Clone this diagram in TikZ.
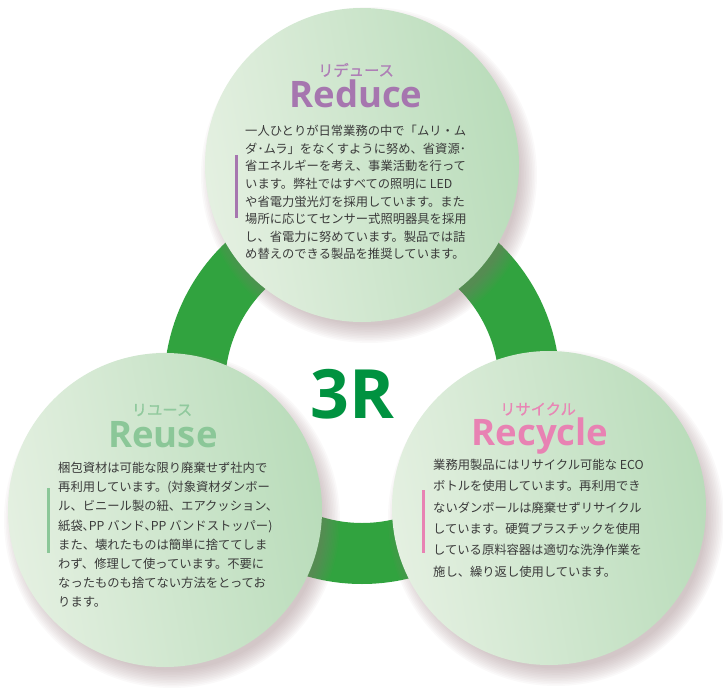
\documentclass[tikz,border=0pt]{standalone}
\usepackage{fontspec}
\newfontfamily\cjk{Noto Sans CJK JP}
\newfontfamily\cjkm{Noto Sans CJK JP}[FakeBold=0.7]
\newfontfamily\titlefont{Open Sans}
\definecolor{ringgreen}{HTML}{31A33F}
\definecolor{threegreen}{HTML}{009240}
\definecolor{bubL}{HTML}{E4F0E1}
\definecolor{bubR}{HTML}{B9DCBA}
\definecolor{shadowcol}{HTML}{94777A}
\definecolor{bodytext}{HTML}{3A3A3A}
\definecolor{redpurple}{HTML}{A676AF}
\definecolor{redpurpleL}{HTML}{AE7EB6}
\definecolor{reugreen}{HTML}{8BC798}
\definecolor{reugreenL}{HTML}{90C99D}
\definecolor{recpink}{HTML}{E882B3}
\definecolor{recpinkL}{HTML}{E886B5}
\tikzset{
  bubble/.style={circle, minimum size=314pt, inner sep=0pt, left color=bubL, right color=bubR, shading angle=100},
  kana/.style={inner sep=0pt, font=\cjkm\fontsize{15.3}{15}\selectfont},
  bigtitle/.style={inner sep=0pt, anchor=base, font=\titlefont\bfseries\fontsize{36.5}{36}\selectfont},
  body/.style={inner sep=0pt, anchor=north west, align=left, text=bodytext},
  sidebar/.style={line width=3pt},
}
\begin{document}
\begin{tikzpicture}[x=1pt,y=-1pt]
\useasboundingbox (0,0) rectangle (723,690);
\coordinate (ctr) at (362,386);
% ring
\fill[ringgreen, even odd rule] (ctr) circle[radius=198pt] (ctr) circle[radius=137pt];
% shadows
\foreach \cx/\cy in {362/165, 165/510, 549/508}{
  \foreach \k in {0,...,11}{
    \fill[shadowcol, opacity=0.045] (\cx+7,\cy+10) circle[radius=157pt+11pt-\k*1.6pt];
  }
}
% bubbles
\node[bubble] (reduce) at (362,165) {};
\node[bubble] (reuse) at (165,510) {};
\node[bubble] (recycle) at (549,508) {};
% centre label
\node[inner sep=0pt, anchor=base, text=threegreen, font=\titlefont\bfseries\fontsize{68}{68}\selectfont] (three) at (352.5,418) {3R};
% Reduce
\node[kana, text=redpurpleL] (reducekana) at (356,70) {リデュース};
\node[bigtitle, text=redpurple] (reducetitle) at (356,108) {Reduce};
\node[body, font=\cjk\fontsize{12.3}{17.6}\selectfont] (reducebody) at (245,125) {一人ひとりが日常業務の中で「ムリ・ム\\ダ･ムラ」をなくすように努め、省資源･\\省エネルギーを考え、事業活動を行って\\います。弊社ではすべての照明に LED\\や省電力蛍光灯を採用しています。また\\場所に応じてセンサー式照明器具を採用\\し、省電力に努めています。製品では詰\\め替えのできる製品を推奨しています。};
\draw[sidebar, redpurple] (236,155) -- (236,218);
% Reuse
\node[kana, text=reugreenL] (reusekana) at (162,410) {リユース};
\node[bigtitle, text=reugreen] (reusetitle) at (163,447) {Reuse};
\node[body, font=\cjk\fontsize{12.3}{19.2}\selectfont] (reusebody) at (58,462) {梱包資材は可能な限り廃棄せず社内で\\再利用しています。(対象資材ダンボー\\ル、ビニール製の紐、エアクッション、\\紙袋､PP バンド､PP バンドストッパー)\\また、壊れたものは簡単に捨ててしま\\わず、修理して使っています。不要に\\なったものも捨てない方法をとってお\\ります。};
\draw[sidebar, reugreen] (48,488) -- (48,553);
% Recycle
\node[kana, text=recpinkL] (recyclekana) at (538,409) {リサイクル};
\node[bigtitle, text=recpink] (recycletitle) at (540,445) {Recycle};
\node[body, font=\cjk\fontsize{12.3}{21.3}\selectfont] (recyclebody) at (433,459) {業務用製品にはリサイクル可能な ECO\\ボトルを使用しています。再利用でき\\ないダンボールは廃棄せずリサイクル\\しています。硬質プラスチックを使用\\している原料容器は適切な洗浄作業を\\施し、繰り返し使用しています。};
\draw[sidebar, recpink] (423,490) -- (423,553);
\end{tikzpicture}
\end{document}
